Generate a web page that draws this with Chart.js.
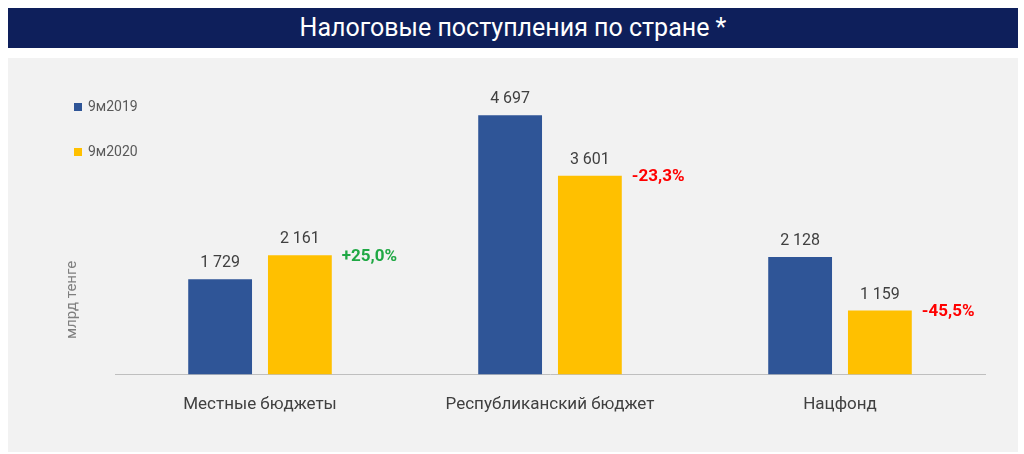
<!DOCTYPE html>
<html><head><meta charset="utf-8">
<script src="https://cdn.jsdelivr.net/npm/chart.js@4"></script>
<style>
body{margin:0;background:#fff;width:1024px;height:454px;overflow:hidden;font-family:"Liberation Sans Narrow","Roboto",sans-serif}
#title{position:absolute;left:8px;top:8px;width:1010px;height:40px;background:#0e1f5b;color:#fff;font-size:25px;line-height:40px;text-align:center}
#panel{position:absolute;left:8px;top:58px;width:1010px;height:394px;background:#f2f2f2}
#wrap{position:absolute;left:8px;top:58px;width:1010px;height:394px}
</style></head><body>
<div id="title">Налоговые поступления по стране *</div>
<div id="panel"></div>
<div id="wrap"><canvas id="c"></canvas></div>
<script>
const categories=["Местные бюджеты","Республиканский бюджет","Нацфонд"];
const v2019=[1729,4697,2128];
const v2020=[2161,3601,1159];
const labels2019=["1 729","4 697","2 128"];
const labels2020=["2 161","3 601","1 159"];
const changes=["+25,0%","-23,3%","-45,5%"];
const font='"Liberation Sans Narrow","Roboto",sans-serif';
const lab={id:'lab',afterDatasetsDraw(ch){const c=ch.ctx;c.save();c.textAlign='center';c.textBaseline='bottom';
[labels2019,labels2020].forEach((L,d)=>{ch.getDatasetMeta(d).data.forEach((b,i)=>{c.font='16px '+font;c.fillStyle='#404040';c.fillText(L[i],b.x,b.y-8);
if(d===1){c.textAlign='left';c.textBaseline='middle';c.font='bold 17px '+font;c.fillStyle=changes[i][0]=='+'?'#1fa844':'#ff0000';c.fillText(changes[i],b.x+b.width/2+10,b.y+1);c.textAlign='center';c.textBaseline='bottom';}});});
c.restore();}};
new Chart(document.getElementById('c'),{type:'bar',data:{labels:categories,datasets:[
{label:'9м2019',data:v2019,backgroundColor:'#2f5597',categoryPercentage:0.55,barPercentage:0.8},
{label:'9м2020',data:v2020,backgroundColor:'#ffc000',categoryPercentage:0.55,barPercentage:0.8}]},
options:{responsive:true,maintainAspectRatio:false,animation:false,
layout:{padding:{left:0,right:33,top:24,bottom:25}},
plugins:{legend:{display:false},tooltip:{enabled:false}},
scales:{x:{grid:{display:false},border:{color:'#bfbfbf'},ticks:{color:'#404040',font:{family:font,size:17},padding:12}},
y:{min:0,max:5300,afterFit(s){s.width=107},grid:{display:false},border:{display:false},ticks:{display:false}}}},
plugins:[lab,{id:'leg',afterDraw(ch){const c=ch.ctx;c.save();c.font='14px '+font;c.textBaseline='middle';
[['#2f5597','9м2019',49],['#ffc000','9м2020',94]].forEach(([col,t,y])=>{c.fillStyle=col;c.fillRect(66,y-4,8,8);c.fillStyle='#595959';c.fillText(t,80,y);});
c.translate(64,242);c.rotate(-Math.PI/2);c.textAlign='center';c.fillStyle='#7f7f7f';c.font='15px '+font;c.fillText('млрд тенге',0,0);c.restore();}}]});
</script></body></html>
